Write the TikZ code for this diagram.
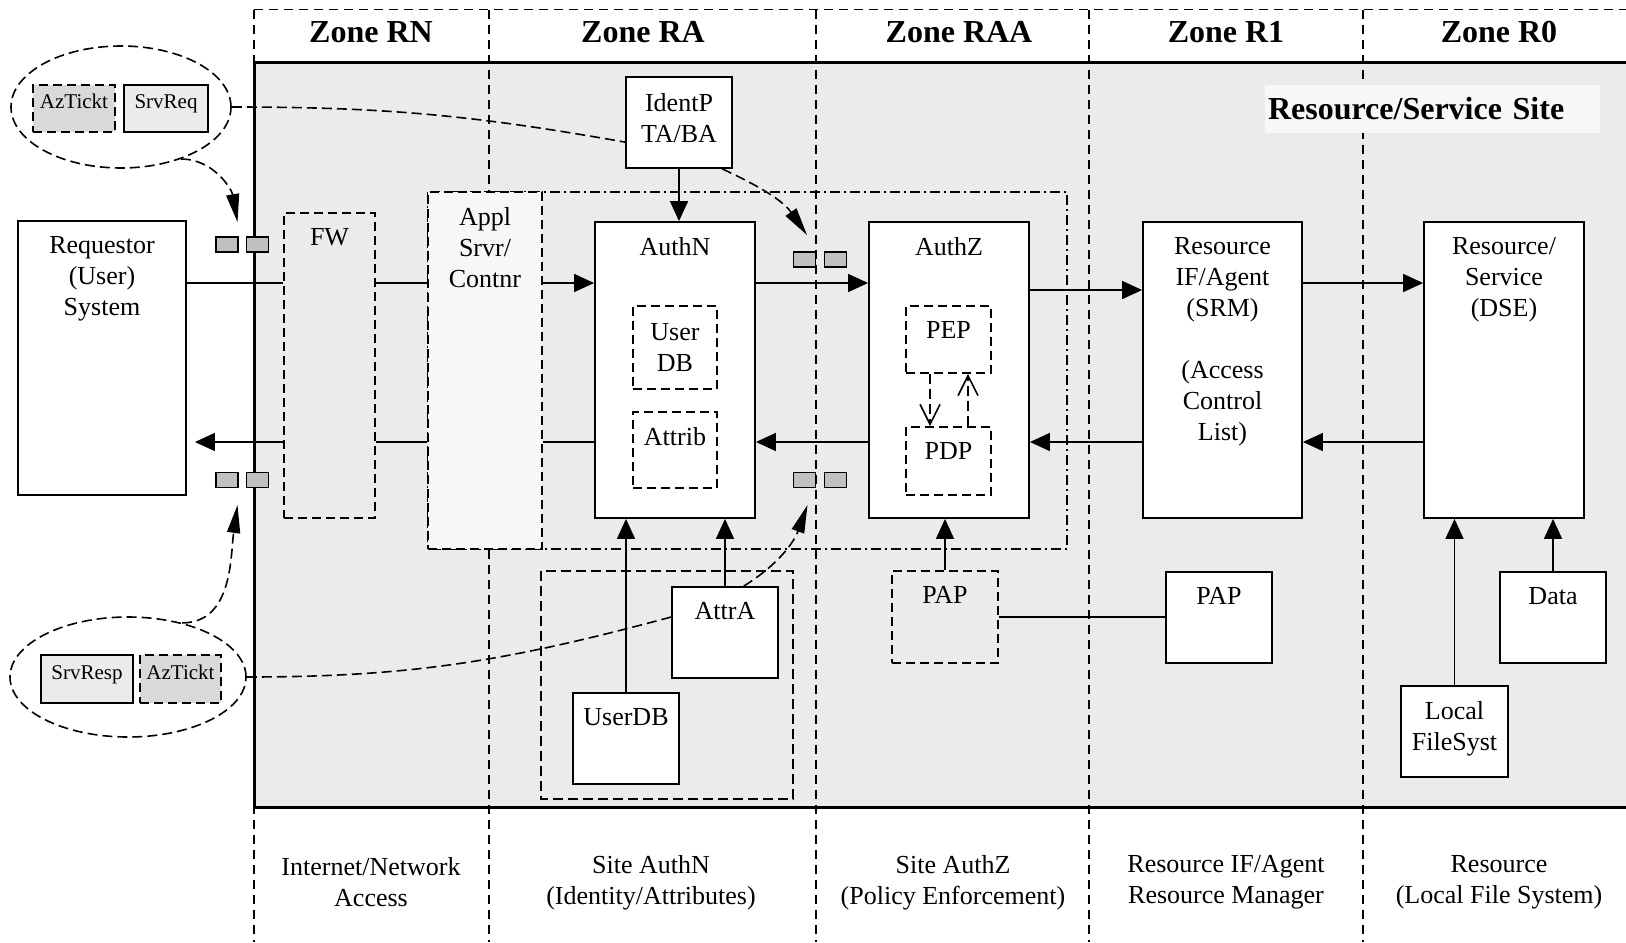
\documentclass[tikz,border=0pt]{standalone}
\usepackage{fontspec}
\setmainfont{Liberation Serif}
\usetikzlibrary{arrows.meta,shapes.geometric}

\definecolor{siteGray}{HTML}{EBEBEB}
\definecolor{applGray}{HTML}{F7F7F7}
\definecolor{tokGray}{HTML}{C0C0C0}
\definecolor{tktGray}{HTML}{D9D9D9}
\definecolor{reqGray}{HTML}{EBEBEB}

\newcommand{\bodyfont}{\fontsize{13}{15.5}\selectfont}
\newcommand{\msgfont}{\fontsize{10.5}{12}\selectfont}
\newcommand{\zonefont}{\fontsize{16}{19}\selectfont\bfseries}

\begin{document}
\begin{tikzpicture}[x=0.5pt, y=-0.5pt,
  box/.style={draw, line width=0.9pt, fill=white, inner sep=0pt, align=center, font=\bodyfont},
  dbox/.style={draw, line width=0.9pt, inner sep=0pt, align=center, font=\bodyfont, dash pattern=on 4.5pt off 2.5pt},
  lbl/.style={anchor=north, inner sep=0pt, yshift=-8pt, align=center, font=\bodyfont},
  tok/.style={draw, line width=0.9pt, fill=tokGray, inner sep=0pt, minimum width=11pt, minimum height=7.5pt},
  msg/.style={draw, line width=0.9pt, inner sep=0pt, font=\msgfont, text height=5pt, text depth=5pt, minimum height=23.5pt},
  zline/.style={line width=0.7pt, dash pattern=on 4.5pt off 3pt},
  ln/.style={line width=0.8pt},
  arr/.style={ln, -{Triangle[length=10pt,width=9pt]}},
  dline/.style={line width=0.8pt, dash pattern=on 5pt off 2.5pt},
  dtip/.style={dline, -{Triangle[length=14pt,width=6.5pt]}},
  darr/.style={dline, -{Straight Barb[length=10pt,width=10pt]}},
  zone/.style={font=\zonefont},
  bot/.style={align=center, font=\bodyfont}]
  \useasboundingbox (0,0) rectangle (1626,942);

  % site area and zones
  \fill[siteGray] (254,62) rectangle (1626,807);
  \draw[zline] (254,9.5) -- (1626,9.5);
  \draw[zline] (254,9.5) -- (254,942);
  \draw[zline] (489,9.5) -- (489,942);
  \draw[zline] (816,9.5) -- (816,942);
  \draw[zline] (1089,9.5) -- (1089,942);
  \draw[zline] (1363,9.5) -- (1363,942);
  \draw[line width=1.5pt] (1630,62) -- (254,62) -- (254,807) -- (1630,807);

  \node[zone] (zRN) at (371,32) {Zone RN};
  \node[zone] (zRA) at (643,32) {Zone RA};
  \node[zone] (zRAA) at (959,32) {Zone RAA};
  \node[zone] (zR1) at (1226,32) {Zone R1};
  \node[zone] (zR0) at (1499,32) {Zone R0};
  \node[font=\zonefont, fill=applGray, inner xsep=1.5pt, minimum height=24pt,
        text width=164.5pt, align=left] (site) at (1432.5,109) {Resource/Service Site};

  \node[bot] (bRN) at (371,882.5) {Internet/Network\\Access};
  \node[bot] (bRA) at (651,882.5) {Site AuthN\\(Identity/Attributes)};
  \node[bot] (bRAA) at (953,882.5) {Site AuthZ\\(Policy Enforcement)};
  \node[bot] (bR1) at (1226,882.5) {Resource IF/Agent\\Resource Manager};
  \node[bot] (bR0) at (1499,882.5) {Resource\\(Local File System)};

  % groups
  \draw[line width=0.8pt, dash pattern=on 5pt off 2pt on 1pt off 2pt] (428,192) rectangle (1067,549);
  \draw[dline] (541,571) rectangle (793,799);

  % components
  \node[box, minimum width=84pt, minimum height=137pt,
        label={[lbl]north:{Requestor\\(User)\\System}}] (req) at (102,358) {};
  \node[dbox, minimum width=45.5pt, minimum height=152.5pt, label={[lbl]north:FW}] (fw) at (329.5,365.5) {};
  \node[dbox, fill=applGray, minimum width=57pt, minimum height=178.5pt,
        label={[lbl]north:{Appl\\Srvr/\\Contnr}}] (appl) at (485,370.5) {};
  \node[box, minimum width=53pt, minimum height=45.5pt, text depth=5pt] (identp) at (679,122.5) {IdentP\\TA/BA};
  \node[box, minimum width=80pt, minimum height=148pt, label={[lbl]north:AuthN}] (authn) at (675,370) {};
  \node[dbox, minimum width=42pt, minimum height=41.5pt] (udb) at (675,347.5) {User\\DB};
  \node[dbox, minimum width=42pt, minimum height=38pt, label={[lbl]north:Attrib}] (attrib) at (675,450) {};
  \node[box, minimum width=80pt, minimum height=148pt, label={[lbl]north:AuthZ}] (authz) at (949,370) {};
  \node[dbox, minimum width=42.5pt, minimum height=33.5pt, label={[lbl]north:PEP}] (pep) at (948.5,339.5) {};
  \node[dbox, minimum width=42.5pt, minimum height=34pt, label={[lbl]north:PDP}] (pdp) at (948.5,461) {};
  \node[box, minimum width=79.5pt, minimum height=148pt,
        label={[lbl]north:{Resource\\IF/Agent\\(SRM)\\[15.5pt](Access\\Control\\List)}}] (resif) at (1222.5,370) {};
  \node[box, minimum width=80pt, minimum height=148pt,
        label={[lbl]north:{Resource/\\Service\\(DSE)}}] (ressvc) at (1504,370) {};
  \node[dbox, minimum width=53pt, minimum height=46pt, label={[lbl]north:PAP}] (pap) at (945,617) {};
  \node[box, minimum width=53pt, minimum height=45.5pt, label={[lbl]north:PAP}] (pap2) at (1219,617.5) {};
  \node[box, minimum width=53pt, minimum height=45.5pt, label={[lbl]north:Data}] (data) at (1553,617.5) {};
  \node[box, minimum width=53.5pt, minimum height=45.5pt,
        label={[lbl]north:{Local\\FileSyst}}] (localfs) at (1454.5,731.5) {};
  \node[box, minimum width=53pt, minimum height=45.5pt, label={[lbl]north:AttrA}] (attra) at (725,632.5) {};
  \node[box, minimum width=53pt, minimum height=45.5pt, label={[lbl]north:UserDB}] (userdb) at (626,738.5) {};

  % request and response messages
  \node[ellipse, draw, dline, minimum width=110pt, minimum height=61pt, inner sep=0pt] (reqmsg) at (121,107) {};
  \node[msg, dash pattern=on 4.5pt off 2.5pt, fill=tktGray, minimum width=41pt] (tkt1) at (74,108.5) {AzTickt};
  \node[msg, fill=reqGray, minimum width=42pt] (srvreq) at (166,108.5) {SrvReq};
  \node[ellipse, draw, dline, minimum width=118pt, minimum height=60pt, inner sep=0pt] (respmsg) at (128,677) {};
  \node[msg, fill=reqGray, minimum width=46pt, minimum height=24pt] (srvresp) at (87,679) {SrvResp};
  \node[msg, dash pattern=on 4.5pt off 2.5pt, fill=tktGray, minimum width=40.5pt, minimum height=24pt] (tkt2) at (180.5,679) {AzTickt};

  % tokens
  \node[tok] (tkA1) at (227,244.5) {};
  \node[tok] (tkA2) at (257.5,244.5) {};
  \node[tok] (tkB1) at (227,480) {};
  \node[tok] (tkB2) at (257.5,480) {};
  \node[tok] (tkC1) at (804.5,259.5) {};
  \node[tok] (tkC2) at (835.5,259.5) {};
  \node[tok] (tkD1) at (804.5,480) {};
  \node[tok] (tkD2) at (835.5,480) {};

  \coordinate (fwd) at (0,283);
  \coordinate (fwd2) at (0,290);
  \coordinate (bwd) at (0,442);
  \coordinate (tipA) at (807,235);
  \coordinate (tipB) at (237.5,222);
  \coordinate (tipC) at (237.5,505);
  \coordinate (tipD) at (807.5,505);

  % request path
  \draw[ln] (req.east |- fwd) -- (fw.west |- fwd);
  \draw[ln] (fw.east |- fwd) -- (appl.west |- fwd);
  \draw[arr] (appl.east |- fwd) -- (authn.west |- fwd);
  \draw[arr] (authn.east |- fwd) -- (authz.west |- fwd);
  \draw[arr] (authz.east |- fwd2) -- (resif.west |- fwd2);
  \draw[arr] (resif.east |- fwd) -- (ressvc.west |- fwd);

  % response path
  \draw[arr] (ressvc.west |- bwd) -- (resif.east |- bwd);
  \draw[arr] (resif.west |- bwd) -- (authz.east |- bwd);
  \draw[arr] (authz.west |- bwd) -- (authn.east |- bwd);
  \draw[ln] (authn.west |- bwd) -- (appl.east |- bwd);
  \draw[ln] (appl.west |- bwd) -- (fw.east |- bwd);
  \draw[arr, shorten >=4pt] (fw.west |- bwd) -- (req.east |- bwd);

  \draw[arr] (identp.south) -- (identp.south |- authn.north);
  \draw[arr] (userdb.north) -- (userdb.north |- authn.south);
  \draw[arr] (attra.north) -- (attra.north |- authn.south);
  \draw[arr] (pap.north) -- (pap.north |- authz.south);
  \draw[ln] (pap.east) -- (pap.east -| pap2.west);
  \draw[arr] (localfs.north) -- (localfs.north |- ressvc.south);
  \draw[arr] (data.north) -- (data.north |- ressvc.south);
  \draw[darr] ([xshift=-9.25pt]pep.south) -- ([xshift=-9.25pt]pdp.north);
  \draw[darr] ([xshift=9.75pt]pdp.north) -- ([xshift=9.75pt]pep.south);

  % message flows
  \draw[dline] (reqmsg.east) to[out=0,in=170] (identp.200);
  \draw[dtip] (identp.-47) to[out=-25,in=125] (tipA);
  \draw[dtip] (reqmsg.-41) to[out=0,in=100] (tipB);
  \draw[dtip] (respmsg.45) to[out=0,in=-98] (tipC);
  \draw[dline] (respmsg.east) to[out=0,in=-165] (attra.164);
  \draw[dtip] (attra.68) to[out=32,in=-110] (tipD);
\end{tikzpicture}
\end{document}
